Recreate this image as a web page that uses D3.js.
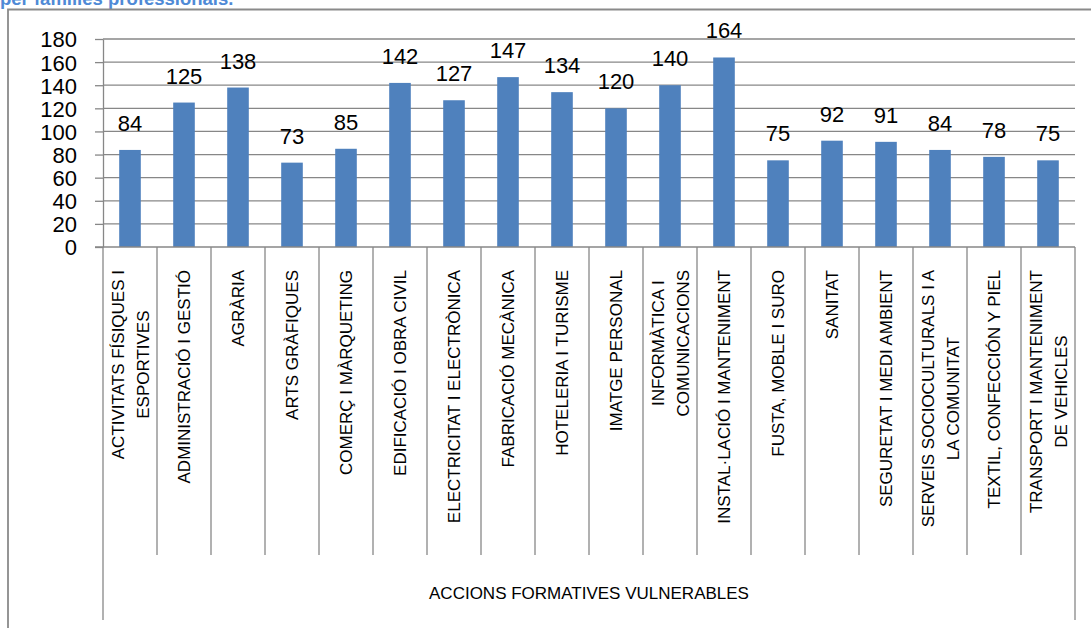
<!DOCTYPE html>
<html>
<head>
<meta charset="utf-8">
<script src="https://cdn.jsdelivr.net/npm/d3@7"></script>
<style>
  html, body { margin: 0; padding: 0; background: #fff; }
  svg { display: block; }
  text { font-family: "Liberation Sans", Arial, sans-serif; }
</style>
</head>
<body>
<svg id="chart" width="1091" height="628"></svg>
<script>
// ---- data ----
const categories = [
  ["ACTIVITATS FÍSIQUES I", "ESPORTIVES"],
  ["ADMINISTRACIÓ I GESTIÓ"],
  ["AGRÀRIA"],
  ["ARTS GRÀFIQUES"],
  ["COMERÇ I MÀRQUETING"],
  ["EDIFICACIÓ I OBRA CIVIL"],
  ["ELECTRICITAT I ELECTRÒNICA"],
  ["FABRICACIÓ MECÀNICA"],
  ["HOTELERIA I TURISME"],
  ["IMATGE PERSONAL"],
  ["INFORMÀTICA I", "COMUNICACIONS"],
  ["INSTAL·LACIÓ I MANTENIMENT"],
  ["FUSTA, MOBLE I SURO"],
  ["SANITAT"],
  ["SEGURETAT I MEDI AMBIENT"],
  ["SERVEIS SOCIOCULTURALS I A", "LA COMUNITAT"],
  ["TEXTIL, CONFECCIÓN Y PIEL"],
  ["TRANSPORT I MANTENIMENT", "DE VEHICLES"]
];
const values = [84, 125, 138, 73, 85, 142, 127, 147, 134, 120, 140, 164, 75, 92, 91, 84, 78, 75];
const yTicks = [0, 20, 40, 60, 80, 100, 120, 140, 160, 180];
const groupLabel = "ACCIONS FORMATIVES VULNERABLES";
const titleText = "per famílies professionals.";

// ---- layout ----
const svg = d3.select("#chart");
const plotL = 103, plotR = 1075, plotT = 39, plotB = 247;
const keys = categories.map(c => c.join(" "));

const x = d3.scaleBand().domain(keys).range([plotL, plotR]).paddingInner(0.6).paddingOuter(0.3);
const xb = d3.scaleBand().domain(keys).range([plotL, plotR]).padding(0);
const y = d3.scaleLinear().domain([0, 180]).range([plotB, plotT]);

const gridColor = "#878787";

// title (cut off at top)
svg.append("text").attr("x", 0).attr("y", 5)
  .attr("font-size", 18.5).attr("font-weight", "bold").attr("fill", "#4f8ad6")
  .text(titleText);

// outer chart border
svg.append("path").attr("d", "M8,628 V9.5 H1091")
  .attr("fill", "none").attr("stroke", "#8a8a8a").attr("stroke-width", 1.8);

// gridlines
svg.append("g").selectAll("line").data(yTicks.filter(t => t > 0)).join("line")
  .attr("x1", plotL).attr("x2", plotR)
  .attr("y1", d => y(d)).attr("y2", d => y(d))
  .attr("stroke", gridColor).attr("stroke-width", 1.3);

// y axis
const yAxis = svg.append("g").attr("transform", `translate(${plotL},0)`)
  .call(d3.axisLeft(y).tickValues(yTicks).tickSize(8).tickPadding(18).tickSizeOuter(0));
yAxis.select(".domain").attr("stroke", gridColor).attr("stroke-width", 1.3);
yAxis.selectAll(".tick line").attr("stroke", gridColor).attr("stroke-width", 1.3);
yAxis.selectAll(".tick text").attr("font-size", 22).attr("fill", "#000")
  .attr("font-family", "Liberation Sans, Arial, sans-serif").attr("dy", "0.36em");

// bars
svg.append("g").selectAll("rect").data(values).join("rect")
  .attr("x", (d, i) => x(keys[i]))
  .attr("width", x.bandwidth())
  .attr("y", d => y(d))
  .attr("height", d => y(0) - y(d))
  .attr("fill", "#4f81bd");

// x axis baseline
svg.append("line").attr("x1", plotL - 8).attr("x2", plotR)
  .attr("y1", y(0)).attr("y2", y(0))
  .attr("stroke", gridColor).attr("stroke-width", 1.3);

// category separators
const bounds = keys.map(k => xb(k)).concat([plotR]);
svg.append("g").selectAll("line").data(bounds).join("line")
  .attr("x1", d => d).attr("x2", d => d)
  .attr("y1", y(0))
  .attr("y2", (d, i) => (i === 0 || i === bounds.length - 1) ? 620 : 555)
  .attr("stroke", gridColor).attr("stroke-width", 1.3);

// value labels
svg.append("g").selectAll("text").data(values).join("text")
  .attr("x", (d, i) => x(keys[i]) + x.bandwidth() / 2)
  .attr("y", d => y(d) - 19)
  .attr("text-anchor", "middle")
  .attr("font-size", 22).attr("fill", "#000")
  .text(d => d);

// category labels (rotated)
const labFont = 17, lineGap = 25, labTop = 270;
const capOff = 0.716 * labFont / 2;
const labG = svg.append("g");
categories.forEach((lines, i) => {
  const cx = xb(keys[i]) + xb.bandwidth() / 2;
  const g = labG.append("g");
  const texts = lines.map((ln, j) => g.append("text")
    .attr("font-size", labFont).attr("fill", "#000")
    .attr("text-anchor", "middle").text(ln));
  const maxLen = d3.max(texts, t => t.node().getComputedTextLength());
  const cy = labTop + maxLen / 2;
  texts.forEach((t, j) => {
    const lx = cx + (j - (lines.length - 1) / 2) * lineGap + capOff;
    t.attr("transform", `translate(${lx},${cy}) rotate(-90)`);
  });
});

// group label
svg.append("text").attr("x", (plotL + plotR) / 2).attr("y", 599)
  .attr("text-anchor", "middle").attr("font-size", 17).attr("fill", "#000")
  .text(groupLabel);
</script>
</body>
</html>
